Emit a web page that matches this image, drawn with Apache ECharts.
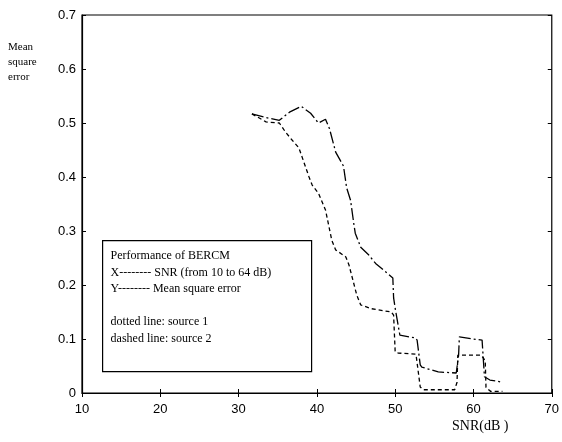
<!DOCTYPE html>
<html>
<head>
<meta charset="utf-8">
<script src="https://cdn.jsdelivr.net/npm/echarts@6/dist/echarts.min.js"></script>
<style>
  html, body { margin: 0; padding: 0; background: #fff; }
  #chart { width: 562px; height: 442px; }
</style>
</head>
<body>
<div id="chart"></div>
<script>
  // source 1 (dotted line, lower curve)
  const snr1 = [31.7, 33.5, 35.2, 36.0, 36.8, 37.7, 39.0, 39.4, 40.2, 41.1, 41.9, 42.4, 43.7, 44.1, 45.1, 45.6, 47.0, 49.5, 49.8, 50.0, 50.4, 52.6, 52.7, 53.2, 53.6, 57.6, 57.9, 58.0, 61.0, 61.5, 61.6, 62.2, 63.7]
  const mse1 = [0.517, 0.502, 0.500, 0.483, 0.469, 0.454, 0.400, 0.385, 0.370, 0.339, 0.283, 0.265, 0.252, 0.237, 0.181, 0.163, 0.156, 0.150, 0.144, 0.076, 0.074, 0.072, 0.067, 0.011, 0.006, 0.006, 0.020, 0.070, 0.070, 0.060, 0.010, 0.003, 0.003]

  // source 2 (dashed line, upper curve)
  const snr2 = [31.7, 33.5, 35.2, 36.5, 38.0, 39.2, 40.2, 41.1, 41.6, 42.4, 43.4, 43.8, 44.3, 44.7, 44.9, 45.6, 46.6, 47.5, 49.7, 49.8, 50.0, 50.6, 52.6, 52.8, 53.2, 53.4, 55.5, 57.8, 58.1, 58.2, 60.0, 61.1, 61.4, 62.1, 63.7]
  const mse2 = [0.517, 0.510, 0.505, 0.520, 0.531, 0.518, 0.500, 0.507, 0.490, 0.446, 0.420, 0.380, 0.357, 0.315, 0.296, 0.270, 0.256, 0.240, 0.213, 0.176, 0.157, 0.107, 0.102, 0.098, 0.052, 0.048, 0.039, 0.037, 0.070, 0.104, 0.100, 0.098, 0.030, 0.024, 0.020]

  const xTicks = [10, 20, 30, 40, 50, 60, 70]
  const yTicks = [0, 0.1, 0.2, 0.3, 0.4, 0.5, 0.6, 0.7]

  const noteLines = [
    'Performance of BERCM',
    'X-------- SNR (from 10 to 64 dB)',
    'Y-------- Mean square error',
    '',
    'dotted line: source 1',
    'dashed line: source 2'
  ]

  const pairs = (xs, ys) => xs.map((x, i) => [x, ys[i]])

  const myChart = echarts.init(document.getElementById('chart'))

  const tickLabel = {
    fontFamily: 'Liberation Sans',
    fontSize: 13,
    color: '#000'
  }

  const option = {
    backgroundColor: '#fff',
    animation: false,
    grid: {
      left: 82,
      right: 7,
      top: 15,
      bottom: 49,
      show: true,
      borderColor: '#000',
      borderWidth: 1.2
    },
    xAxis: [{
      type: 'value',
      min: xTicks[0],
      max: xTicks[xTicks.length - 1],
      interval: 10,
      axisLine: { show: true, onZero: false, lineStyle: { color: '#000', width: 1.2 } },
      axisTick: { show: true, inside: true, length: 4, lineStyle: { color: '#000' } },
      splitLine: { show: false },
      axisLabel: Object.assign({ margin: 10 }, tickLabel)
    }, {
      type: 'value',
      position: 'top',
      min: xTicks[0],
      max: xTicks[xTicks.length - 1],
      interval: 10,
      axisLine: { show: false },
      axisTick: { show: true, inside: true, length: 4, lineStyle: { color: '#000' } },
      splitLine: { show: false },
      axisLabel: { show: false }
    }],
    yAxis: [{
      type: 'value',
      min: yTicks[0],
      max: yTicks[yTicks.length - 1],
      interval: 0.1,
      axisLine: { show: true, onZero: false, lineStyle: { color: '#000', width: 1.2 } },
      axisTick: { show: true, inside: true, length: 4, lineStyle: { color: '#000' } },
      splitLine: { show: false },
      axisLabel: Object.assign({
        margin: 6,
        formatter: v => (v === 0 ? '0' : v.toFixed(1))
      }, tickLabel)
    }, {
      type: 'value',
      position: 'right',
      min: yTicks[0],
      max: yTicks[yTicks.length - 1],
      interval: 0.1,
      axisLine: { show: false },
      axisTick: { show: true, inside: true, length: 4, lineStyle: { color: '#000' } },
      splitLine: { show: false },
      axisLabel: { show: false }
    }],
    series: [
      {
        name: 'source 1',
        type: 'line',
        showSymbol: false,
        data: pairs(snr1, mse1),
        lineStyle: { color: '#000', width: 1.3, type: [4, 3] }
      },
      {
        name: 'source 2',
        type: 'line',
        showSymbol: false,
        data: pairs(snr2, mse2),
        lineStyle: { color: '#000', width: 1.3, type: [12, 3, 2, 3] }
      }
    ],
    graphic: [
      {
        type: 'text',
        left: 8,
        top: 40,
        style: {
          text: 'Mean\nsquare\nerror',
          font: '11px "Liberation Serif"',
          lineHeight: 15,
          fill: '#000'
        }
      },
      {
        type: 'text',
        left: 452,
        top: 419,
        style: {
          text: 'SNR(dB )',
          font: '14px "Liberation Serif"',
          fill: '#000'
        }
      },
      {
        type: 'group',
        left: 102,
        top: 240,
        children: [
          {
            type: 'rect',
            shape: { x: 0, y: 0, width: 209, height: 131 },
            style: { fill: '#fff', stroke: '#000', lineWidth: 1.2 }
          },
          {
            type: 'text',
            left: 8,
            top: 7,
            style: {
              text: noteLines.join('\n'),
              font: '12px "Liberation Serif"',
              lineHeight: 16.5,
              fill: '#000'
            }
          }
        ]
      }
    ]
  }

  myChart.setOption(option)
</script>
</body>
</html>
